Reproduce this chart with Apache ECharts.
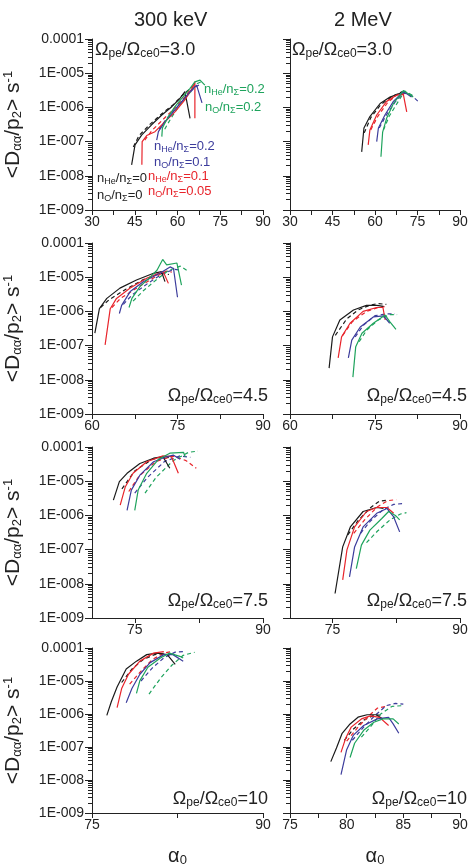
<!DOCTYPE html>
<html>
<head>
<meta charset="utf-8">
<script src="https://cdn.jsdelivr.net/npm/echarts@6/dist/echarts.min.js"></script>
<style>
html, body { margin: 0; padding: 0; background: #fff; }
#main { width: 473px; height: 868px; }
</style>
</head>
<body>
<div id="main"></div>
<script>
// ---- data: [alpha0, <Daa/p^2>] ----
// 300 keV, wpe/wce0 = 3.0
var a30_k  = [[43.9,2.1e-8],[45.1,8e-8],[47.4,1.55e-7],[50.9,3.1e-7],[54.5,6e-7],[58.0,1.05e-6],[60.9,1.85e-6],[62.6,2.9e-6],[64.4,4.8e-7]];
var a30_kd = [[44.5,7e-8],[46.5,1.5e-7],[50.5,3.3e-7],[54.5,6.5e-7],[58.5,1.2e-6],[62,2.4e-6],[64,3.3e-6]];
var a30_r  = [[47.5,2.1e-8],[47.6,1e-7],[49.2,1.5e-7],[52.1,1.95e-7],[55.6,3.8e-7],[59.1,7.4e-7],[62.6,1.66e-6],[65.5,4.1e-6],[66.1,5.6e-6],[66.1,4.8e-7]];
var a30_rd = [[48.5,1.1e-7],[51,2.1e-7],[55,4.5e-7],[59,9.5e-7],[62.5,2e-6],[65.5,4.3e-6]];
var a30_b  = [[52.7,1.1e-7],[53.3,1.95e-7],[55.6,3.8e-7],[58.5,7.4e-7],[61.5,1.5e-6],[64.4,2.9e-6],[66.7,4.5e-6],[68.6,1.35e-6]];
var a30_bd = [[53.5,2.3e-7],[56,4.5e-7],[59.5,9.5e-7],[63,2e-6],[66,3.8e-6],[68,4.8e-6]];
var a30_g  = [[54.5,1.4e-7],[54.7,2.5e-7],[56.8,5.4e-7],[59.1,1.05e-6],[62.0,2.05e-6],[64.4,3.6e-6],[66.1,5.6e-6],[67.9,6.3e-6],[69.6,4.5e-6]];
var a30_gd = [[55.5,2.3e-7],[57.5,4.5e-7],[60.5,1.1e-6],[64,2.5e-6],[67,5e-6],[69,6e-6]];
// 2 MeV, 3.0
var b30_k  = [[55.3,5e-8],[56.1,2.5e-7],[58.2,5.4e-7],[61.8,1.3e-6],[65.3,2e-6],[68.8,2.6e-6],[69.4,2.9e-6]];
var b30_kd = [[56.2,1.8e-7],[58.5,5e-7],[62,1.2e-6],[66,2.1e-6],[69.5,2.8e-6],[71,2.5e-6]];
var b30_r  = [[57.6,8e-8],[58.2,2.2e-7],[60.6,6e-7],[64.1,1.5e-6],[67.7,2.3e-6],[70,2.4e-6],[71.2,7.4e-7]];
var b30_rd = [[58.5,2.2e-7],[61,5.5e-7],[64.5,1.4e-6],[68,2.4e-6],[71.5,2.6e-6],[73,2e-6]];
var b30_b  = [[60.6,1e-7],[61.2,2.5e-7],[63.5,6e-7],[66.5,1.5e-6],[68.8,2.3e-6],[70,2.9e-6],[72.9,2e-6]];
var b30_bd = [[61.5,2.5e-7],[64,6e-7],[67,1.4e-6],[70,2.7e-6],[73,2.2e-6],[75.2,1.5e-6]];
var b30_g  = [[62.1,3.6e-8],[62.7,1.9e-7],[64.1,4.8e-7],[66.5,1.3e-6],[68.8,2.3e-6],[70,3.1e-6],[73.5,2e-6]];
var b30_gd = [[63,2.2e-7],[65,5.5e-7],[68,1.4e-6],[70.5,3e-6],[73.5,2.2e-6]];
// 300 keV, 4.5
var c45_k  = [[60.5,2.3e-7],[61.3,1.2e-6],[62.6,2.4e-6],[64.9,4.8e-6],[67.8,8.3e-6],[70.8,1.3e-5],[72.2,1.45e-5],[72.8,7.4e-6]];
var c45_kd = [[61.5,1.3e-6],[63,2.2e-6],[66,4.5e-6],[69,8.5e-6],[72,1.3e-5],[73.5,1.2e-5]];
var c45_r  = [[62.3,1.05e-7],[63.2,1.2e-6],[64.3,2.4e-6],[66.7,4.8e-6],[69.6,9.3e-6],[72.5,1.45e-5],[73.4,6.6e-6]];
var c45_rd = [[63.5,1.3e-6],[65,2.4e-6],[68,5e-6],[71,1e-5],[73,1.5e-5],[74,1.4e-5]];
var c45_b  = [[64.8,8.7e-7],[65.2,1.5e-6],[66.7,3.8e-6],[69,7.4e-6],[71.9,1.3e-5],[73.7,2e-5],[74.3,1.8e-5],[75,2.6e-6]];
var c45_bd = [[65.5,1.6e-6],[67,3e-6],[70,7e-6],[72.5,1.3e-5],[74.5,1.7e-5],[75.5,1.6e-5]];
var c45_g  = [[66.5,1.3e-6],[67,2.4e-6],[68.4,5.3e-6],[70.2,1e-5],[71.4,1.6e-5],[72.4,3.3e-5],[73.1,2.3e-5],[74.9,2.6e-5],[75.7,5.9e-6]];
var c45_gd = [[67.2,2e-6],[69,4e-6],[71.5,9e-6],[73.5,1.6e-5],[75.5,2.1e-5],[76.6,1.6e-5]];
// 2 MeV, 4.5
var d45_k  = [[66.9,2.2e-8],[67.5,1.8e-7],[68.8,5.6e-7],[71.2,1.1e-6],[73.5,1.5e-6],[75.3,1.5e-6],[76.5,1.4e-6]];
var d45_kd = [[68,2e-7],[70,6e-7],[72,1.1e-6],[74,1.5e-6],[75.5,1.7e-6],[77,1.6e-6]];
var d45_r  = [[68.5,4.4e-8],[69.1,1.8e-7],[70.6,4.5e-7],[72.9,1e-6],[75.3,1.3e-6],[76.4,1.3e-6],[76.8,5.6e-7]];
var d45_rd = [[69.3,2e-7],[71,5e-7],[73.5,1e-6],[75.5,1.3e-6],[77,1.4e-6]];
var d45_b  = [[70.3,4.4e-8],[70.9,1.45e-7],[72.4,3.5e-7],[74.7,6.9e-7],[76.5,7.4e-7],[77.6,4.5e-7]];
var d45_bd = [[71.5,1.8e-7],[73,4e-7],[75,7.5e-7],[77,8.5e-7],[78.5,8.5e-7]];
var d45_g  = [[71.1,1.2e-8],[71.6,9.3e-8],[72.7,2.3e-7],[74.7,4.5e-7],[76.8,7.8e-7],[77.6,5e-7],[78.7,3e-7]];
var d45_gd = [[72.2,1.3e-7],[73.5,2.8e-7],[75.5,5.5e-7],[77.5,8e-7],[78.9,8e-7]];
// 300 keV, 7.5
var e75_k  = [[72.5,2.8e-6],[73.2,9.7e-6],[74.1,1.7e-5],[75.6,3.3e-5],[77.2,4.7e-5],[78.3,5.2e-5],[79.1,2.4e-5]];
var e75_kd = [[73.5,6e-6],[75,2e-5],[77,4.3e-5],[78.5,5.3e-5],[79.5,4.5e-5]];
var e75_r  = [[73.3,2e-6],[73.9,6.9e-6],[74.8,1.7e-5],[76.4,3.7e-5],[78.3,5.5e-5],[79.3,5.2e-5],[80.1,1.7e-5]];
var e75_rd = [[74.3,5e-6],[75.5,1.4e-5],[77.5,3.8e-5],[79.5,5.4e-5],[81,4e-5],[82.2,2.4e-5]];
var e75_b  = [[74.1,1.4e-6],[74.6,5.5e-6],[75.6,1.5e-5],[77.2,3.7e-5],[78.7,5.2e-5],[79.5,5.8e-5],[80.3,4.4e-5]];
var e75_bd = [[75,4.5e-6],[76.5,1.3e-5],[78.5,3.8e-5],[80.3,5.5e-5],[81.5,5e-5]];
var e75_g  = [[75,1.4e-6],[75.4,5.5e-6],[76.4,1.7e-5],[77.8,4.4e-5],[79.1,6.6e-5],[80.7,7e-5],[80.9,5.2e-5]];
var e75_gd = [[76.2,4.5e-6],[77.5,1.3e-5],[79.5,4e-5],[81.3,7e-5],[82.4,7.6e-5]];
// 2 MeV, 7.5
var f75_k  = [[75.3,5.2e-9],[76.2,1.2e-7],[77.1,4.6e-7],[78.6,1.3e-6],[80.2,1.7e-6],[81,1.6e-6]];
var f75_kd = [[76.8,2.7e-7],[78,7e-7],[79.5,1.7e-6],[80.5,2.6e-6],[81.5,2.8e-6]];
var f75_r  = [[76.2,1.3e-8],[76.7,9.8e-8],[77.6,4.6e-7],[79,1.3e-6],[80.2,1.7e-6],[81.4,1.7e-6],[82.2,1.15e-6]];
var f75_rd = [[77.5,3e-7],[78.8,7.5e-7],[80.3,1.8e-6],[81.5,2.7e-6],[82.5,2.9e-6]];
var f75_b  = [[77,1.6e-8],[77.6,1.2e-7],[78.6,4.6e-7],[80.2,1.15e-6],[81.4,1.6e-6],[82.2,9e-7],[82.9,3.3e-7]];
var f75_bd = [[78.3,3e-7],[79.5,7e-7],[81,1.5e-6],[82.2,2.1e-6],[83.2,2.2e-6]];
var f75_g  = [[77.8,2.8e-8],[78.4,1.35e-7],[79.4,3.7e-7],[80.8,8.1e-7],[81.6,1.3e-6],[82.4,1e-6],[82.9,7.4e-7]];
var f75_gd = [[79,1.6e-7],[80.3,3.5e-7],[81.8,7.5e-7],[83,1.1e-6],[83.7,1.2e-6]];
// 300 keV, 10
var g10_k  = [[76.3,9.1e-7],[76.7,2.4e-6],[77.2,6.6e-6],[78,2.3e-5],[78.9,4e-5],[79.8,6.3e-5],[80.7,7e-5],[81.6,6.3e-5],[82.3,3.2e-5]];
var g10_kd = [[77.6,9e-6],[78.5,2.3e-5],[79.5,4.5e-5],[80.5,6.3e-5],[81.5,7e-5]];
var g10_r  = [[77.2,1.55e-6],[77.6,5.9e-6],[78.2,1.6e-5],[79.2,4e-5],[80.4,7e-5],[81.3,7.8e-5]];
var g10_rd = [[78.3,8e-6],[79.3,2e-5],[80.3,4.5e-5],[81.3,7e-5],[82,7.8e-5]];
var g10_b  = [[78,2.2e-6],[78.5,5.9e-6],[79.2,1.6e-5],[80.1,3.6e-5],[81.3,6.3e-5],[82.1,6.3e-5],[83,4e-5]];
var g10_bd = [[79.3,1e-5],[80.3,2.5e-5],[81.3,5e-5],[82.3,7.5e-5],[83,7.8e-5]];
var g10_g  = [[78.9,4.2e-6],[79.2,1.03e-5],[79.9,2.6e-5],[81,5e-5],[81.8,7e-5],[82.7,5.6e-5],[83,5e-5]];
var g10_gd = [[80,4e-6],[81,1.2e-5],[82,3e-5],[83,6e-5],[84,7.4e-5]];
// 2 MeV, 10
var h10_k  = [[78.6,3.6e-8],[79.1,9.3e-8],[79.6,2.6e-7],[80.3,5e-7],[81,8e-7],[81.8,9.5e-7],[82.6,9.5e-7],[83.2,7.1e-7]];
var h10_kd = [[79.8,1.6e-7],[80.6,3.5e-7],[81.5,6.5e-7],[82.5,9.5e-7],[83.2,9e-7]];
var h10_r  = [[79.5,6.9e-8],[79.9,1.8e-7],[80.4,4e-7],[81.3,7.1e-7],[82.1,8.8e-7],[82.9,7.9e-7],[83.7,4.5e-7]];
var h10_rd = [[80,1.5e-7],[81,4e-7],[82,9e-7],[82.7,1.5e-6],[83.5,1.7e-6]];
var h10_b  = [[79.5,1.45e-8],[80,8.3e-8],[80.6,2.3e-7],[81.5,4.5e-7],[82.7,7.1e-7],[83.7,7.9e-7],[84.1,5e-7],[84.6,2.6e-7]];
var h10_bd = [[80.5,1.6e-7],[81.5,4e-7],[82.5,9e-7],[83.5,1.8e-6],[84.3,2.1e-6],[85,2e-6]];
var h10_g  = [[80.3,4.8e-8],[80.7,1.3e-7],[81.5,3.2e-7],[82.4,5.6e-7],[83.2,7.1e-7],[84.1,7.1e-7],[84.6,5e-7]];
var h10_gd = [[81.3,2e-7],[82.2,4.5e-7],[83,1e-6],[84,1.7e-6],[85,1.8e-6]];

// x axis ticks / labels per row
var ticksR1 = [30,37.5,45,52.5,60,67.5,75,82.5,90],  labelsR1 = [30,45,60,75,90];
var ticksR2 = [60,67.5,75,82.5,90],                  labelsR2 = [60,75,90];
var ticksR3 = [75,82.5,90],                          labelsR3 = [75,90];
var ticksR4 = [75,82.5,90],                          labelsR4 = [75,90];
var ticksR4b = [75,77.5,80,82.5,85,87.5,90],         labelsR4b = [75,80,85,90];
var ratios = ['3.0','4.5','7.5','10'];

var col = { k:'#1b1b1b', r:'#e8242b', b:'#3c3c9c', g:'#1ea35c' };
var font = 'Liberation Sans';

var panels = [
    {x:92,  y:39,  min:30, max:90, ticks:ticksR1,  labels:labelsR1,  left:true,  d:[a30_kd,a30_rd,a30_bd,a30_gd,a30_k,a30_r,a30_b,a30_g]},
    {x:290, y:39,  min:30, max:90, ticks:ticksR1,  labels:labelsR1,  left:false, d:[b30_kd,b30_rd,b30_bd,b30_gd,b30_k,b30_r,b30_b,b30_g]},
    {x:92,  y:243, min:60, max:90, ticks:ticksR2,  labels:labelsR2,  left:true,  d:[c45_kd,c45_rd,c45_bd,c45_gd,c45_k,c45_r,c45_b,c45_g]},
    {x:290, y:243, min:60, max:90, ticks:ticksR2,  labels:labelsR2,  left:false, d:[d45_kd,d45_rd,d45_bd,d45_gd,d45_k,d45_r,d45_b,d45_g]},
    {x:92,  y:447, min:70, max:90, ticks:ticksR3,  labels:labelsR3,  left:true,  d:[e75_kd,e75_rd,e75_bd,e75_gd,e75_k,e75_r,e75_b,e75_g]},
    {x:290, y:447, min:70, max:90, ticks:ticksR3,  labels:labelsR3,  left:false, d:[f75_kd,f75_rd,f75_bd,f75_gd,f75_k,f75_r,f75_b,f75_g]},
    {x:92,  y:648, min:75, max:90, ticks:ticksR4,  labels:labelsR4,  left:true,  d:[g10_kd,g10_rd,g10_bd,g10_gd,g10_k,g10_r,g10_b,g10_g]},
    {x:290, y:648, min:75, max:90, ticks:ticksR4b, labels:labelsR4b, left:false, d:[h10_kd,h10_rd,h10_bd,h10_gd,h10_k,h10_r,h10_b,h10_g]}
];
var order = ['k','r','b','g','k','r','b','g'];

// positions of the 2..9 minor ticks of each decade (in log10 units)
var minorLog = [];
for (var dec = -9; dec < -4; dec++) {
    for (var m = 2; m <= 9; m++) minorLog.push(dec + Math.log(m) / Math.LN10);
}

function yLabel(v){
    var p = Math.round(Math.log(v) / Math.LN10);
    if (p === -4) return '0.0001';
    return '1E-00' + (-p);
}
function subRich(size, sub, color){
    return {
        m:{fontSize:size, fontFamily:font, color:color},
        s:{fontSize:sub, fontFamily:font, color:color, verticalAlign:'bottom', lineHeight:size * 1.05},
        p:{fontSize:sub, fontFamily:font, color:color, verticalAlign:'top', lineHeight:size * 1.05}
    };
}
var yTitle = '{m|<D}{s|αα}{m|/p}{s|2}{m|> s}{p|-1}';

var grids = [], xAxes = [], yAxes = [], series = [];
panels.forEach(function(p, i){
    grids.push({left:p.x, top:p.y, width:p.x < 200 ? 171 : 170, height:171});
    xAxes.push({
        type:'value', gridIndex:i, min:p.min, max:p.max,
        name: i >= 6 ? '{m|α}{s|0}' : '', nameLocation:'middle', nameGap:33,
        nameTextStyle:{rich:subRich(20, 13, '#222')},
        axisLine:{lineStyle:{color:'#222', width:1}},
        axisTick:{show:true, length:5, lineStyle:{color:'#222'}, customValues:p.ticks},
        axisLabel:{color:'#222', fontSize:14, margin:5, customValues:p.labels},
        splitLine:{show:false}
    });
    yAxes.push({
        type:'log', logBase:10, gridIndex:i, min:1e-9, max:1e-4,
        name: p.left ? yTitle : '', nameLocation:'middle', nameRotate:90, nameGap:68,
        nameTextStyle:{rich:subRich(21, 13, '#222')},
        axisLine:{show:true, lineStyle:{color:'#222', width:1}},
        axisTick:{show:true, length:7, lineStyle:{color:'#222'}},
        axisLabel:{show:p.left, color:'#222', fontSize:14, margin:8, formatter:yLabel},
        splitLine:{show:false}
    });
    p.d.forEach(function(d, j){
        series.push({
            type:'line', xAxisIndex:i, yAxisIndex:i, data:d,
            showSymbol:false, symbol:'none',
            lineStyle:{color:col[order[j]], width:1.2, type: j < 4 ? [4,3] : 'solid'}
        });
    });
});
// extra axes that only carry the log minor ticks
panels.forEach(function(p, i){
    yAxes.push({
        type:'value', gridIndex:i, min:-9, max:-4, position:'left', offset:0,
        axisLine:{show:false}, axisLabel:{show:false}, splitLine:{show:false},
        axisTick:{show:true, length:4, lineStyle:{color:'#222'}, customValues:minorLog}
    });
});

// ---- text blocks as title components ----
var titles = [];
function label(pos, text, size, sub, color){
    var t = {text:text, padding:0, itemGap:0,
        textStyle:{fontSize:size, fontWeight:'normal', color:color, fontFamily:font, rich:subRich(size, sub, color)}};
    for (var key in pos) t[key] = pos[key];
    titles.push(t);
}
label({left:134, top:10}, '300 keV', 20, 13, '#222');
label({left:334, top:10}, '2 MeV', 20, 13, '#222');

function omega(r){ return '{m|Ω}{s|pe}{m|/Ω}{s|ce0}{m|=' + r + '}'; }
label({left:95, top:41}, omega(ratios[0]), 18, 12, '#222');
label({left:292, top:41}, omega(ratios[0]), 18, 12, '#222');
[[387, 1], [592, 2], [790, 3]].forEach(function(a){
    label({right:205, top:a[0]}, omega(ratios[a[1]]), 18, 12, '#222');
    label({right:6, top:a[0]}, omega(ratios[a[1]]), 18, 12, '#222');
});

function nLab(x, y, sp, v, c){
    label({left:x, top:y - 7}, '{m|n}{s|' + sp + '}{m|/n}{s|Σ}{m|=' + v + '}', 13, 9, c);
}
nLab(204, 90, 'He', '0.2', col.g);  nLab(205, 108, 'O', '0.2', col.g);
nLab(154, 147, 'He', '0.2', col.b); nLab(154, 163, 'O', '0.1', col.b);
nLab(148, 177, 'He', '0.1', col.r); nLab(148, 192, 'O', '0.05', col.r);
nLab(97, 179, 'He', '0', '#222');   nLab(97, 196, 'O', '0', '#222');

var chart = echarts.init(document.getElementById('main'));
chart.setOption({
    animation:false,
    title:titles,
    grid:grids,
    xAxis:xAxes,
    yAxis:yAxes,
    series:series
});
</script>
</body>
</html>
